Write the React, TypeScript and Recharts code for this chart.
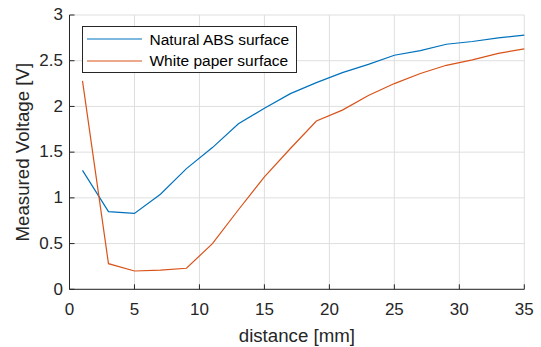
import React from 'react';
import { LineChart, Line, XAxis, YAxis, CartesianGrid, Legend } from 'recharts';

const distance = [1, 3, 5, 7, 9, 11, 13, 15, 17, 19, 21, 23, 25, 27, 29, 31, 33, 35];
const absSurface = [1.30, 0.85, 0.83, 1.04, 1.32, 1.55, 1.81, 1.98, 2.14, 2.26, 2.37, 2.46, 2.56, 2.61, 2.68, 2.71, 2.75, 2.78];
const paperSurface = [2.28, 0.28, 0.20, 0.21, 0.23, 0.50, 0.87, 1.23, 1.54, 1.84, 1.96, 2.12, 2.25, 2.36, 2.45, 2.51, 2.58, 2.63];
const xTicks = [0, 5, 10, 15, 20, 25, 30, 35];
const yTicks = [0, 0.5, 1, 1.5, 2, 2.5, 3];
const seriesNames = ['Natural ABS surface', 'White paper surface'];
const xLabel = 'distance [mm]';
const yLabel = 'Measured Voltage [V]';

const data = distance.map((d, i) => ({ d, abs: absSurface[i], paper: paperSurface[i] }));

const FONT = '"Liberation Sans", Arial, Helvetica, sans-serif';
const AX = '#262626';
const BLUE = '#0072BD';
const ORANGE = '#D95319';
const TICK_LEN = 5;

const BottomTick = (props: any) => {
  const { x, y, payload } = props;
  return (
    <g>
      <line x1={x} x2={x} y1={y} y2={y - TICK_LEN} stroke={AX} strokeWidth={1} />
      <text x={x} y={y + 25.5} textAnchor="middle" fontSize={17} fontFamily={FONT} fill={AX}>
        {payload.value}
      </text>
    </g>
  );
};

const TopTick = (props: any) => {
  const { x, y } = props;
  return <line x1={x} x2={x} y1={y} y2={y + TICK_LEN} stroke={AX} strokeWidth={1} />;
};

const LeftTick = (props: any) => {
  const { x, y, payload } = props;
  return (
    <g>
      <line x1={x} x2={x + TICK_LEN} y1={y} y2={y} stroke={AX} strokeWidth={1} />
      <text x={x - 6.5} y={y + 5.2} textAnchor="end" fontSize={17} fontFamily={FONT} fill={AX}>
        {payload.value}
      </text>
    </g>
  );
};

const RightTick = (props: any) => {
  const { x, y } = props;
  return <line x1={x} x2={x - TICK_LEN} y1={y} y2={y} stroke={AX} strokeWidth={1} />;
};

const XAxisLabel = (props: any) => {
  const { viewBox } = props;
  const cx = viewBox.x + viewBox.width / 2;
  return (
    <text x={cx} y={viewBox.y + 52.5} textAnchor="middle" fontSize={18.7} fontFamily={FONT} fill={AX}>
      {xLabel}
    </text>
  );
};

const YAxisLabel = (props: any) => {
  const { viewBox } = props;
  const cy = viewBox.y + viewBox.height / 2;
  const bx = viewBox.x + viewBox.width - 40;
  return (
    <text
      x={bx}
      y={cy}
      transform={`rotate(-90 ${bx} ${cy})`}
      textAnchor="middle"
      fontSize={18.7}
      fontFamily={FONT}
      fill={AX}
    >
      {yLabel}
    </text>
  );
};

const LegendBox = (props: any) => {
  const { payload } = props;
  return (
    <div
      style={{
        border: `1px solid ${AX}`,
        background: '#fff',
        width: 213.3,
        height: 43.5,
        paddingTop: 1.5,
        fontFamily: FONT,
        fontSize: 15.5,
        color: '#000',
        boxSizing: 'content-box',
      }}
    >
      {(payload || []).map((p: any) => (
        <div key={p.value} style={{ display: 'flex', alignItems: 'center', height: 21.7, whiteSpace: 'nowrap' }}>
          <svg width={55} height={4} style={{ marginLeft: 3.7, display: 'block' }}>
            <line x1={0} x2={55} y1={2} y2={2} stroke={p.color} strokeWidth={1.2} />
          </svg>
          <span style={{ marginLeft: 7.8, lineHeight: '21.7px' }}>{p.value}</span>
        </div>
      ))}
    </div>
  );
};

export default function App() {
  return (
    <div style={{ position: 'absolute', left: 0, top: 0, width: 541, height: 347, background: '#fff' }}>
      <LineChart
        width={541}
        height={347}
        data={data}
        margin={{ top: 15, right: 16.7, bottom: 27.7, left: 9.5 }}
      >
        <CartesianGrid stroke="#dfdfdf" strokeWidth={1} horizontalValues={yTicks} verticalValues={xTicks} />
        <XAxis
          dataKey="d"
          type="number"
          domain={[0, 35]}
          ticks={xTicks}
          height={30}
          tickSize={0}
          tickMargin={0}
          tickLine={false}
          axisLine={{ stroke: AX, strokeWidth: 1 }}
          tick={<BottomTick />}
          interval={0}
          label={<XAxisLabel />}
        />
        <XAxis
          xAxisId="top"
          orientation="top"
          dataKey="d"
          type="number"
          domain={[0, 35]}
          ticks={xTicks}
          height={0}
          tickSize={0}
          tickMargin={0}
          tickLine={false}
          axisLine={{ stroke: AX, strokeWidth: 1 }}
          tick={<TopTick />}
          interval={0}
        />
        <YAxis
          type="number"
          domain={[0, 3]}
          ticks={yTicks}
          width={60}
          tickSize={0}
          tickMargin={0}
          tickLine={false}
          axisLine={{ stroke: AX, strokeWidth: 1 }}
          tick={<LeftTick />}
          interval={0}
          label={<YAxisLabel />}
        />
        <YAxis
          yAxisId="right"
          orientation="right"
          type="number"
          domain={[0, 3]}
          ticks={yTicks}
          width={0}
          tickSize={0}
          tickMargin={0}
          tickLine={false}
          axisLine={{ stroke: AX, strokeWidth: 1 }}
          tick={<RightTick />}
          interval={0}
        />
        <Legend
          verticalAlign="middle"
          align="center"
          layout="horizontal"
          content={<LegendBox />}
          wrapperStyle={{ top: 26, left: 82, width: 'auto', height: 'auto' }}
        />
        <Line
          name={seriesNames[0]}
          dataKey="abs"
          type="linear"
          stroke={BLUE}
          strokeWidth={1.2}
          dot={false}
          activeDot={false}
          isAnimationActive={false}
        />
        <Line
          name={seriesNames[1]}
          dataKey="paper"
          type="linear"
          stroke={ORANGE}
          strokeWidth={1.2}
          dot={false}
          activeDot={false}
          isAnimationActive={false}
        />
      </LineChart>
    </div>
  );
}
